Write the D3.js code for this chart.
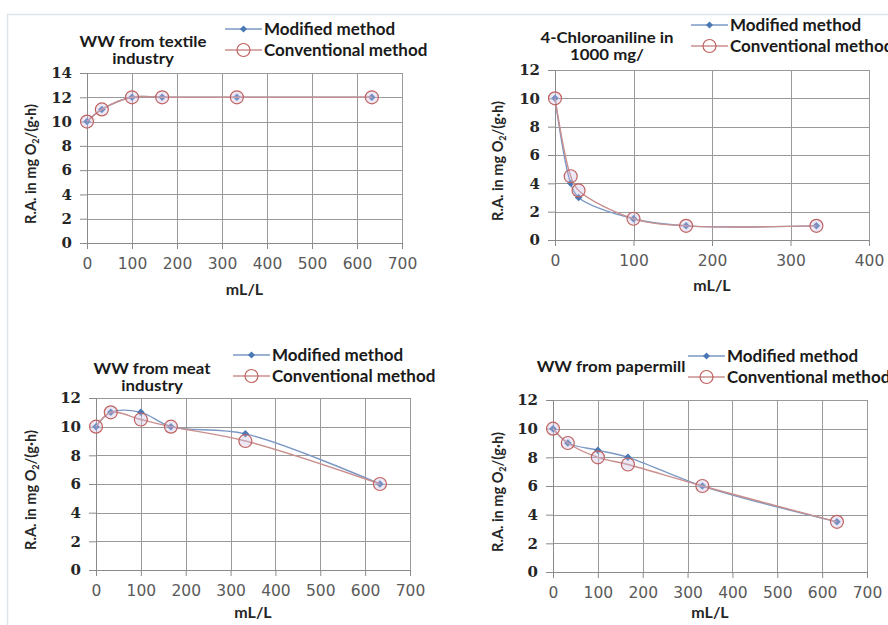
<!DOCTYPE html>
<html lang="en">
<head>
  <meta charset="UTF-8">
  <title>Respiration activity panels</title>
  <style>
    body { margin: 0; background: #fff; }
    svg { display: block; }
  </style>
</head>
<body>
  <svg id="svg" width="888" height="625"></svg>

  <script src="https://d3js.org/d3.v7.min.js"></script>
  <script>
    // concentrations (mL/L) and R.A. values
    const textileX = [0, 33, 100, 167, 333, 633]
    const textileModified = [10, 11, 12, 12, 12, 12]
    const textileConventional = [10, 11, 12, 12, 12, 12]

    const chloroX = [0, 20, 30, 100, 167, 333]
    const chloroModified = [10, 4, 3, 1.5, 1, 1]
    const chloroConventional = [10, 4.5, 3.5, 1.5, 1, 1]

    const meatX = [0, 33, 100, 167, 333, 633]
    const meatModified = [10, 11, 11, 10, 9.5, 6]
    const meatConventional = [10, 11, 10.5, 10, 9, 6]

    const paperX = [0, 33, 100, 167, 333, 633]
    const paperModified = [10, 9, 8.5, 8, 6, 3.5]
    const paperConventional = [10, 9, 8, 7.5, 6, 3.5]

    const xTicks700 = [0, 100, 200, 300, 400, 500, 600, 700]
    const xTicks400 = [0, 100, 200, 300, 400]
    const yTicks14 = [0, 2, 4, 6, 8, 10, 12, 14]
    const yTicks12 = [0, 2, 4, 6, 8, 10, 12]

    const seriesNames = ['Modified method', 'Conventional method']

    const modColor = '#4a78b4'
    const modLine = '#7b98c4'
    const convColor = '#c0625f'
    const convLine = '#c98f8d'

    const svg = d3.select('#svg')

    // light frame around the figure
    svg.append('path')
      .attr('d', 'M7.5,625 V14.5 H888')
      .attr('fill', 'none')
      .attr('stroke', '#dfe4ea')
      .attr('stroke-width', 1.5)

    const panels = [
      { title: ['WW from textile', 'industry'], xs: textileX, mod: textileModified, conv: textileConventional,
        xTicks: xTicks700, yTicks: yTicks14, left: 87, right: 402, top: 73, bottom: 243,
        titleX: 143, titleY: 47, legX: 225, legY: 29, labelX: 36, xTitleDy: 52 },
      { title: ['4-Chloroaniline in', '1000 mg/'], xs: chloroX, mod: chloroModified, conv: chloroConventional,
        xTicks: xTicks400, yTicks: yTicks12, left: 555, right: 869, top: 70, bottom: 240,
        titleX: 607, titleY: 43, legX: 691, legY: 25, labelX: 503, xTitleDy: 51 },
      { title: ['WW from meat', 'industry'], xs: meatX, mod: meatModified, conv: meatConventional,
        xTicks: xTicks700, yTicks: yTicks12, left: 96, right: 410, top: 398, bottom: 570,
        titleX: 152, titleY: 374, legX: 233, legY: 355, labelX: 36, xTitleDy: 48 },
      { title: ['WW from papermill'], xs: paperX, mod: paperModified, conv: paperConventional,
        xTicks: xTicks700, yTicks: yTicks12, left: 553, right: 867, top: 400, bottom: 572,
        titleX: 611, titleY: 372, legX: 688, legY: 356, labelX: 503, xTitleDy: 46 }
    ]

    panels.forEach(p => {
      const g = svg.append('g')

      const x = d3.scaleLinear()
        .domain(d3.extent(p.xTicks))
        .range([p.left, p.right])
      const y = d3.scaleLinear()
        .domain(d3.extent(p.yTicks))
        .range([p.bottom, p.top])

      // grid
      g.selectAll('.vgrid')
        .data(p.xTicks)
        .enter()
        .append('line')
        .attr('x1', d => Math.round(x(d)) + 0.5)
        .attr('x2', d => Math.round(x(d)) + 0.5)
        .attr('y1', p.top)
        .attr('y2', p.bottom)
        .attr('stroke', '#9a9a9a')
      g.selectAll('.hgrid')
        .data(p.yTicks)
        .enter()
        .append('line')
        .attr('x1', p.left)
        .attr('x2', p.right)
        .attr('y1', d => Math.round(y(d)) + 0.5)
        .attr('y2', d => Math.round(y(d)) + 0.5)
        .attr('stroke', '#9a9a9a')

      // axes
      const yAxis = g.append('g')
        .attr('transform', `translate(${p.left},0)`)
        .call(d3.axisLeft(y).tickValues(p.yTicks).tickSize(7).tickPadding(8))
      yAxis.selectAll('text')
        .attr('font-family', '"DejaVu Serif", serif')
        .attr('font-weight', 'bold')
        .attr('font-size', 15)
        .attr('fill', '#262626')

      const xAxis = g.append('g')
        .attr('transform', `translate(0,${p.bottom})`)
        .call(d3.axisBottom(x).tickValues(p.xTicks).tickSize(6).tickPadding(9))
      xAxis.selectAll('text')
        .attr('font-family', '"DejaVu Sans", sans-serif')
        .attr('font-size', 15.5)
        .attr('fill', '#5a5a5a')

      g.selectAll('.domain, .tick line').attr('stroke', '#8a8a8a')

      // axis titles
      g.append('text')
        .attr('x', (p.left + p.right) / 2)
        .attr('y', p.bottom + p.xTitleDy)
        .attr('text-anchor', 'middle')
        .attr('font-family', 'Lato, sans-serif')
        .attr('font-weight', 'bold')
        .attr('font-size', 16)
        .attr('fill', '#262626')
        .text('mL/L')

      const yl = g.append('text')
        .attr('transform', `translate(${p.labelX},${(p.top + p.bottom) / 2 + 6}) rotate(-90)`)
        .attr('text-anchor', 'middle')
        .attr('font-family', 'Lato, sans-serif')
        .attr('font-weight', 'bold')
        .attr('font-size', 14.5)
        .attr('fill', '#262626')
      yl.append('tspan').text('R.A. in mg O')
      yl.append('tspan').attr('font-size', 9).attr('dy', 3).text('2')
      yl.append('tspan').attr('dy', -3).text('/(g\u00b7h)')

      // chart title (the source is stretched sideways, so widen the glyphs)
      p.title.forEach((t, i) => {
        g.append('text')
          .attr('transform', `translate(${p.titleX},${p.titleY + i * 17}) scale(1.16,1)`)
          .attr('text-anchor', 'middle')
          .attr('font-family', 'Lato, sans-serif')
          .attr('font-weight', 'bold')
          .attr('font-size', 14.5)
          .attr('fill', '#1a1a1a')
          .text(t)
      })

      // series
      const line = d3.line()
        .x(d => x(d[0]))
        .y(d => y(d[1]))
        .curve(d3.curveCatmullRom)
      const modPts = p.xs.map((v, i) => [v, p.mod[i]])
      const convPts = p.xs.map((v, i) => [v, p.conv[i]])

      g.append('path')
        .datum(modPts)
        .attr('d', line)
        .attr('fill', 'none')
        .attr('stroke', modLine)
        .attr('stroke-width', 1.4)
      g.selectAll('.diamond')
        .data(modPts)
        .enter()
        .append('path')
        .attr('d', d3.symbol(d3.symbolDiamond2, 36))
        .attr('transform', d => `translate(${x(d[0])},${y(d[1])})`)
        .attr('fill', modColor)

      g.append('path')
        .datum(convPts)
        .attr('d', line)
        .attr('fill', 'none')
        .attr('stroke', convLine)
        .attr('stroke-width', 1.4)
      g.selectAll('.ring')
        .data(convPts)
        .enter()
        .append('circle')
        .attr('cx', d => x(d[0]))
        .attr('cy', d => y(d[1]))
        .attr('r', 6.5)
        .attr('fill', 'rgba(200,190,225,0.35)')
        .attr('stroke', convColor)
        .attr('stroke-width', 1.2)

      // legend
      seriesNames.forEach((name, i) => {
        const ly = p.legY + i * 21
        g.append('line')
          .attr('x1', p.legX).attr('x2', p.legX + 37)
          .attr('y1', ly).attr('y2', ly)
          .attr('stroke', i === 0 ? modLine : convLine)
          .attr('stroke-width', 1.4)
        if (i === 0) {
          g.append('path')
            .attr('d', d3.symbol(d3.symbolDiamond2, 32))
            .attr('transform', `translate(${p.legX + 18.5},${ly})`)
            .attr('fill', modColor)
        } else {
          g.append('circle')
            .attr('cx', p.legX + 18.5).attr('cy', ly).attr('r', 6.5)
            .attr('fill', 'none')
            .attr('stroke', convColor)
            .attr('stroke-width', 1.2)
        }
        g.append('text')
          .attr('x', p.legX + 39)
          .attr('y', ly + 6)
          .attr('font-family', 'Lato, sans-serif')
          .attr('font-weight', 'bold')
          .attr('font-size', 17)
          .attr('fill', '#1a1a1a')
          .text(name)
      })
    })
  </script>
</body>
</html>
